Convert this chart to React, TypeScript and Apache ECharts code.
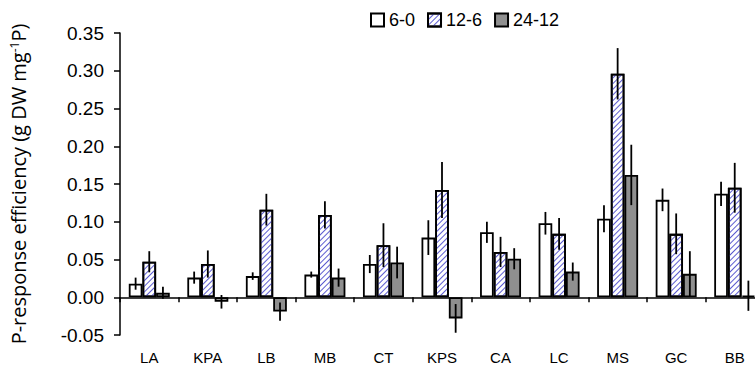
import React, { useEffect, useRef } from "react";
import * as echarts from "echarts";

const categories = ["LA", "KPA", "LB", "MB", "CT", "KPS", "CA", "LC", "MS", "GC", "BB"];
const seriesNames = ["6-0", "12-6", "24-12"];
const values60 = [0.018, 0.026, 0.028, 0.030, 0.044, 0.079, 0.086, 0.098, 0.104, 0.129, 0.137];
const errors60 = [0.008, 0.008, 0.005, 0.004, 0.012, 0.023, 0.014, 0.015, 0.018, 0.015, 0.016];
const values126 = [0.047, 0.044, 0.116, 0.109, 0.069, 0.142, 0.060, 0.084, 0.296, 0.084, 0.145];
const errors126 = [0.014, 0.018, 0.021, 0.018, 0.029, 0.037, 0.020, 0.021, 0.034, 0.027, 0.033];
const values2412 = [0.006, -0.006, -0.019, 0.026, 0.046, -0.028, 0.051, 0.034, 0.162, 0.031, 0.002];
const errors2412 = [0.008, 0.009, 0.012, 0.012, 0.021, 0.019, 0.014, 0.012, 0.040, 0.030, 0.020];
const yTicks = { min: -0.05, max: 0.35, interval: 0.05 };

const FONT = "Liberation Sans";

export default function App() {
  const ref = useRef<HTMLDivElement>(null);
  useEffect(() => {
    if (!ref.current) return;
    const chart = echarts.init(ref.current, undefined, { renderer: "svg" });
    const valueSets = [values60, values126, values2412];
    const errorSets = [errors60, errors126, errors2412];
    const styles = [
      { color: "#ffffff", borderColor: "#000", borderWidth: 1.8 },
      {
        color: "#ffffff",
        borderColor: "#000",
        borderWidth: 1.8,
        decal: {
          symbol: "rect",
          symbolSize: 1,
          dashArrayX: [1, 0],
          dashArrayY: [1, 3],
          rotation: -Math.PI / 4,
          color: "#5b5bd0",
        },
      },
      { color: "#8f8f8f", borderColor: "#000", borderWidth: 1.8 },
    ];
    const barSeries = seriesNames.map((name, i) => ({
      name,
      type: "bar",
      data: valueSets[i],
      barGap: "0%",
      barCategoryGap: "30%",
      itemStyle: styles[i],
      z: 2,
    }));
    const errSeries = seriesNames.map((name, i) => ({
      name: "err-" + name,
      type: "custom",
      z: 5,
      encode: { x: 0, y: 1 },
      data: valueSets[i].map((v, k) => [k, v, errorSets[i][k]]),
      renderItem: (params: any, api: any) => {
        const idx = api.value(0);
        const v = api.value(1);
        const e = api.value(2);
        const c = api.coord([idx, v]);
        const band = api.size([1, 0])[0];
        const bw = (band * 0.7) / 3;
        const cx = c[0] + (i - 1) * bw;
        const top = api.coord([idx, v + e])[1];
        const bot = api.coord([idx, v - e])[1];
        return {
          type: "line",
          shape: { x1: cx, y1: top, x2: cx, y2: bot },
          style: { stroke: "#000", lineWidth: 1.8 },
        };
      },
    }));
    chart.setOption({
      animation: false,
      backgroundColor: "#fff",
      textStyle: { fontFamily: FONT },
      legend: {
        data: seriesNames,
        top: 6,
        left: 365,
        icon: "rect",
        itemWidth: 13,
        itemHeight: 13,
        itemGap: 12,
        textStyle: { fontSize: 18, color: "#000", fontFamily: FONT },
      },
      grid: { left: 120, right: -9, top: 33, bottom: 39, outerBoundsMode: "none", containLabel: false },
      xAxis: {
        type: "category",
        data: categories,
        axisLine: { onZero: true, lineStyle: { color: "#000", width: 1.5 } },
        axisTick: { show: true, length: 5, lineStyle: { color: "#000", width: 1.5 } },
        axisLabel: { margin: 15, fontSize: 15, color: "#000", fontFamily: FONT },
        splitLine: { show: false },
      },
      yAxis: {
        type: "value",
        min: yTicks.min,
        max: yTicks.max,
        interval: yTicks.interval,
        name: "{a|P-response efficiency (g DW mg}{s|-1}{a|P)}",
        nameLocation: "middle",
        nameGap: 92,
        nameTextStyle: {
          color: "#000",
          fontFamily: "Open Sans",
          fontSize: 20,
          rich: {
            a: { fontSize: 20, fontFamily: "Open Sans", color: "#000" },
            s: { fontSize: 12, fontFamily: "Open Sans", color: "#000", verticalAlign: "top" },
          },
        },
        axisLine: { show: true, lineStyle: { color: "#000", width: 1.5 } },
        axisTick: { show: true, length: 6, lineStyle: { color: "#000", width: 1.5 } },
        axisLabel: {
          margin: 16,
          fontSize: 19,
          color: "#000",
          fontFamily: FONT,
          formatter: (v: number) => v.toFixed(2),
        },
        splitLine: { show: false },
      },
      series: [...barSeries, ...errSeries],
    });
    return () => chart.dispose();
  }, []);
  return (
    <div
      ref={ref}
      style={{ position: "absolute", left: 0, top: 0, width: 755, height: 374 }}
    />
  );
}
